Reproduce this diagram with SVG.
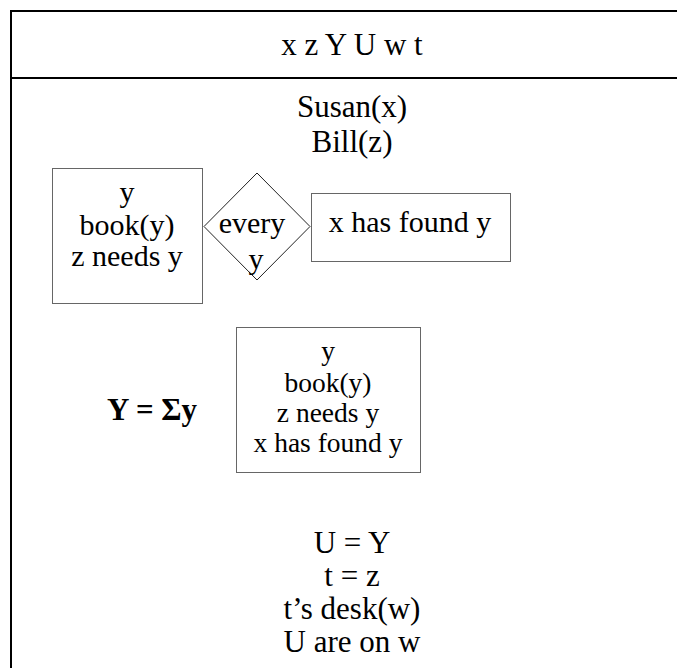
<svg xmlns="http://www.w3.org/2000/svg" width="677" height="668" viewBox="0 0 677 668">
<style>
text{font-family:"Liberation Serif","Times New Roman",serif;fill:#000;text-anchor:middle}
.t31{font-size:31px}
.t30{font-size:30px}
.t28{font-size:27.5px}
.b{font-weight:bold}
.frame{fill:none;stroke:#000;stroke-width:2}
.box{fill:#fff;stroke:#666;stroke-width:1}
.dia{fill:#fff;stroke:#222;stroke-width:1}
</style>
<rect x="0" y="0" width="677" height="668" fill="#fff"/>
<g id="frame">
<polyline class="frame" points="680,11 11,11 11,670"/>
<line class="frame" x1="11" y1="78" x2="680" y2="78"/>
</g>
<g id="header"><text class="t31" x="352" y="55">x z Y U w t</text></g>
<g id="conds-top">
<text class="t31" x="352" y="117">Susan(x)</text>
<text class="t31" x="352" y="152">Bill(z)</text>
</g>
<g id="restrictor">
<rect class="box" x="52.5" y="168.5" width="150" height="135"/>
<text class="t30" x="127" y="202">y</text>
<text class="t30" x="127" y="235">book(y)</text>
<text class="t30" x="127" y="266">z needs y</text>
</g>
<g id="quantifier">
<polygon class="dia" points="204,226.5 257,173 310,226.5 257,280"/>
<text class="t30" x="252" y="233">every</text>
<text class="t30" x="256" y="269">y</text>
</g>
<g id="scope">
<rect class="box" x="311.5" y="193.5" width="199" height="68"/>
<text class="t30" x="410" y="232">x has found y</text>
</g>
<g id="sum"><text class="t31 b" x="152" y="420">Y = Σy</text></g>
<g id="abstraction">
<rect class="box" x="236.5" y="327.5" width="184" height="145"/>
<text class="t28" x="328" y="360">y</text>
<text class="t28" x="328" y="392">book(y)</text>
<text class="t28" x="328" y="422">z needs y</text>
<text class="t28" x="328" y="452">x has found y</text>
</g>
<g id="conds-bottom">
<text class="t31" x="352" y="553">U = Y</text>
<text class="t31" x="352" y="586">t = z</text>
<text class="t31" x="352" y="619">t’s desk(w)</text>
<text class="t31" x="352" y="652">U are on w</text>
</g>
<g id="connectors"></g>
</svg>
